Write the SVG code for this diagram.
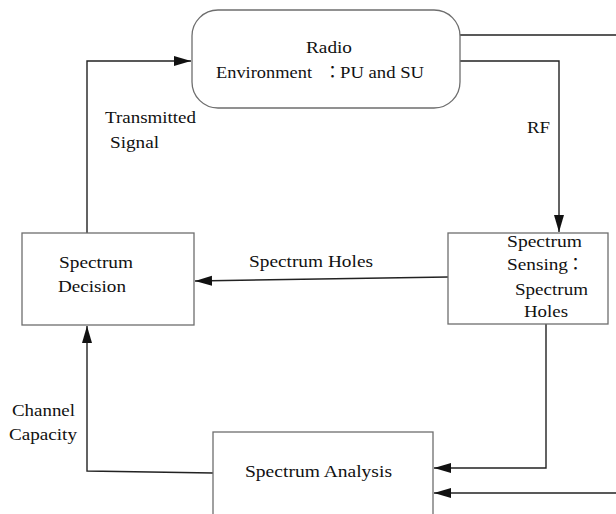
<svg xmlns="http://www.w3.org/2000/svg" width="616" height="514" viewBox="0 0 616 514">
<style>
.box{fill:#fff;stroke:#6e6e6e;stroke-width:1.3}
.ln{fill:none;stroke:#222;stroke-width:1.4}
</style>
<defs>
<marker id="ah" markerUnits="userSpaceOnUse" markerWidth="18" markerHeight="12" refX="17" refY="5" orient="auto">
<path d="M0,0 L17,5 L0,10 z" fill="#111"/>
</marker>
</defs>
<rect width="616" height="514" fill="#fff"/>
<g id="connectors">
<path class="ln" d="M87,233 V61 H191" marker-end="url(#ah)"/>
<path class="ln" d="M460,35 H616"/>
<path class="ln" d="M460,61 H559 V232" marker-end="url(#ah)"/>
<path class="ln" d="M448,277 L195,281" marker-end="url(#ah)"/>
<path class="ln" d="M546,324 V468 H434" marker-end="url(#ah)"/>
<path class="ln" d="M616,493 H434" marker-end="url(#ah)"/>
<path class="ln" d="M213,473 L87,471 V326" marker-end="url(#ah)"/>
</g>
<g id="labels" font-family="Liberation Serif, Times New Roman, serif" font-size="17" fill="#111">
<text x="105" y="123" textLength="91" lengthAdjust="spacingAndGlyphs">Transmitted</text>
<text x="110" y="148" textLength="49" lengthAdjust="spacingAndGlyphs">Signal</text>
<text x="527" y="133" textLength="23" lengthAdjust="spacingAndGlyphs">RF</text>
<text x="249" y="267" textLength="124" lengthAdjust="spacingAndGlyphs">Spectrum Holes</text>
<text x="12" y="416" textLength="63" lengthAdjust="spacingAndGlyphs">Channel</text>
<text x="9" y="440" textLength="68" lengthAdjust="spacingAndGlyphs">Capacity</text>
</g>
<g id="radio-environment" font-family="Liberation Serif, Times New Roman, serif" font-size="17" fill="#111">
<rect class="box" x="192" y="10" width="268" height="98" rx="26" ry="26"/>
<text x="306" y="53" textLength="46" lengthAdjust="spacingAndGlyphs">Radio</text>
<text y="78"><tspan x="216" textLength="96" lengthAdjust="spacingAndGlyphs">Environment</tspan><tspan font-family="Noto Sans CJK JP, sans-serif" x="324">：</tspan><tspan x="340" textLength="84" lengthAdjust="spacingAndGlyphs">PU and SU</tspan></text>
</g>
<g id="spectrum-decision" font-family="Liberation Serif, Times New Roman, serif" font-size="17" fill="#111">
<rect class="box" x="22" y="233" width="172" height="92"/>
<text x="59" y="268" textLength="74" lengthAdjust="spacingAndGlyphs">Spectrum</text>
<text x="58" y="292" textLength="68" lengthAdjust="spacingAndGlyphs">Decision</text>
</g>
<g id="spectrum-sensing" font-family="Liberation Serif, Times New Roman, serif" font-size="17" fill="#111">
<rect class="box" x="448" y="233" width="160" height="91"/>
<text x="507" y="247" textLength="75" lengthAdjust="spacingAndGlyphs">Spectrum</text>
<text y="270"><tspan x="507" textLength="61" lengthAdjust="spacingAndGlyphs">Sensing</tspan><tspan font-family="Noto Sans CJK JP, sans-serif" x="567">：</tspan></text>
<text x="515" y="295" textLength="73" lengthAdjust="spacingAndGlyphs">Spectrum</text>
<text x="524" y="317" textLength="44" lengthAdjust="spacingAndGlyphs">Holes</text>
</g>
<g id="spectrum-analysis" font-family="Liberation Serif, Times New Roman, serif" font-size="17" fill="#111">
<rect class="box" x="213" y="432" width="220" height="90"/>
<text x="245" y="477" textLength="147" lengthAdjust="spacingAndGlyphs">Spectrum Analysis</text>
</g>
</svg>
